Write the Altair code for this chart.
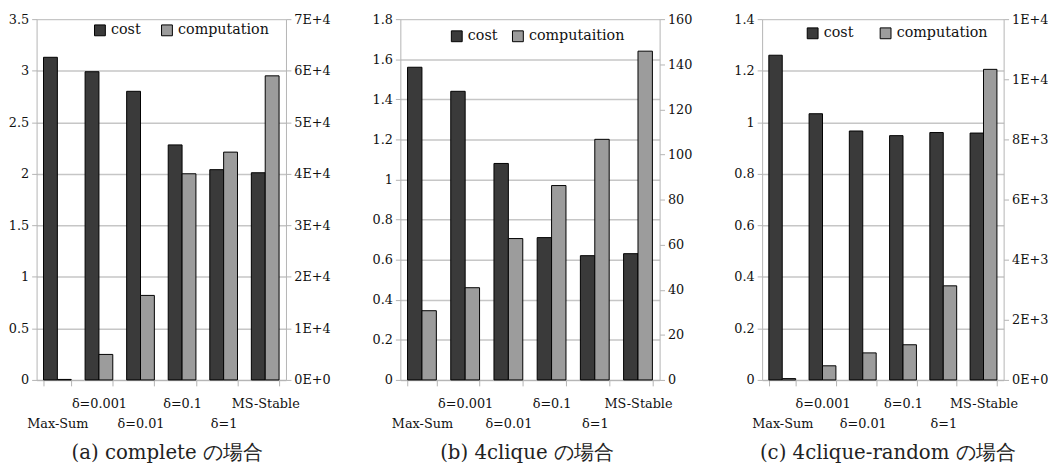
import altair as alt
import pandas as pd

categories = ["Max-Sum", "δ=0.001", "δ=0.01", "δ=0.1", "δ=1", "MS-Stable"]

cost_a = [3.13, 2.99, 2.80, 2.28, 2.04, 2.01]
comp_a = [100, 4950, 16400, 40000, 44200, 59000]
cost_b = [1.56, 1.44, 1.08, 0.71, 0.62, 0.63]
comp_b = [30.7, 40.9, 62.7, 86.2, 106.7, 145.8]
cost_c = [1.26, 1.033, 0.966, 0.948, 0.96, 0.958]
comp_c = [45, 470, 900, 1170, 3130, 10330]

names_a = ["cost", "computation"]
names_b = ["cost", "computaition"]
names_c = ["cost", "computation"]

left_ticks_a = [0, 0.5, 1, 1.5, 2, 2.5, 3, 3.5]
right_ticks_a = [0, 10000, 20000, 30000, 40000, 50000, 60000, 70000]
left_ticks_b = [0, 0.2, 0.4, 0.6, 0.8, 1, 1.2, 1.4, 1.6, 1.8]
right_ticks_b = [0, 20, 40, 60, 80, 100, 120, 140, 160]
left_ticks_c = [0, 0.2, 0.4, 0.6, 0.8, 1, 1.2, 1.4]
right_ticks_c = [0, 2000, 4000, 6000, 8000, 10000, 12000]

captions = ["(a) complete の場合", "(b) 4clique の場合", "(c) 4clique-random の場合"]

FONT = "DejaVu Serif"
COST_COLOR = "#3a3a3a"
COMP_COLOR = "#9c9c9c"
AX = "#b4b4b4"

cat_js = "[" + ",".join("'" + c + "'" for c in categories) + "]"
x_label_expr = f"indexof({cat_js}, datum.value) % 2 == 0 ? ['', datum.label] : [datum.label]"
sci_expr = "replace(format(datum.value, '.0e'), 'e', 'E')"


def panel(cost, comp, names, lticks, rticks, sci, caption, width, legx, legy, colpad, title_dx):
    df = pd.DataFrame({
        "cat": categories * 2,
        "series": [names[0]] * len(categories) + [names[1]] * len(categories),
        "value": cost + comp,
    })
    base = alt.Chart(df).encode(
        x=alt.X("cat:N", sort=categories,
                scale=alt.Scale(paddingInner=1 / 3, paddingOuter=1 / 6),
                axis=alt.Axis(title=None, labelAngle=0, tickBand="extent", tickSize=6,
                              labelExpr=x_label_expr, labelLineHeight=20, labelPadding=12,
                              labelBaseline="top", domainColor=AX, tickColor=AX,
                              labelFont=FONT, labelFontSize=13, labelColor="#111")),
        xOffset=alt.XOffset("series:N", sort=names,
                            scale=alt.Scale(domain=names, paddingInner=0, paddingOuter=0)),
        color=alt.Color("series:N", sort=names,
                        scale=alt.Scale(domain=names, range=[COST_COLOR, COMP_COLOR]),
                        legend=alt.Legend(title=None, orient="none", legendX=legx, legendY=legy,
                                          direction="horizontal", symbolType="square",
                                          symbolSize=121, symbolStrokeColor="black",
                                          symbolStrokeWidth=1, labelFont=FONT, labelFontSize=14.5,
                                          labelColor="#111", columnPadding=colpad, labelOffset=4)),
    )
    left = base.transform_filter(alt.datum.series == names[0]).mark_bar(
        stroke="black", strokeWidth=1).encode(
        y=alt.Y("value:Q", title=None,
                scale=alt.Scale(domain=[0, lticks[-1]], nice=False, zero=True),
                axis=alt.Axis(orient="left", values=lticks, grid=True, gridColor="#c6c6c6",
                              gridWidth=1.5, domainColor=AX, tickColor=AX, tickSize=5,
                              format="~g",
                              labelFont=FONT, labelFontSize=13, labelColor="#111", labelPadding=3)))
    raxis = dict(orient="right", values=rticks, grid=False, domainColor=AX, tickColor=AX,
                 tickSize=5, labelFont=FONT, labelFontSize=13, labelColor="#111", labelPadding=3)
    if sci:
        raxis["labelExpr"] = sci_expr
    right = base.transform_filter(alt.datum.series == names[1]).mark_bar(
        stroke="black", strokeWidth=1).encode(
        y=alt.Y("value:Q", title=None,
                scale=alt.Scale(domain=[0, rticks[-1]], nice=False, zero=True),
                axis=alt.Axis(**raxis)))
    return alt.layer(left, right).resolve_scale(y="independent").properties(
        width=width, height=366,
        title=alt.TitleParams(caption, orient="bottom", font=FONT, fontSize=20,
                              fontWeight="normal", color="#222", offset=13, dx=title_dx))


pa = panel(cost_a, comp_a, names_a, left_ticks_a, right_ticks_a, True, captions[0], 253, 57, 4, 18, 6)
pb = panel(cost_b, comp_b, names_b, left_ticks_b, right_ticks_b, False, captions[1], 263, 50, 10, 12, -3)
pc = panel(cost_c, comp_c, names_c, left_ticks_c, right_ticks_c, True, captions[2], 245, 44, 7, 24, 5)

chart = alt.hconcat(pa, pb, pc, spacing=42).resolve_scale(
    color="independent", xOffset="independent", x="independent"
).resolve_legend(color="independent").properties(
    padding={"left": 0, "top": 2, "right": 0, "bottom": 0}
).configure_view(strokeWidth=0)

chart.save("out.html", embed_options={"renderer": "svg", "actions": False})
